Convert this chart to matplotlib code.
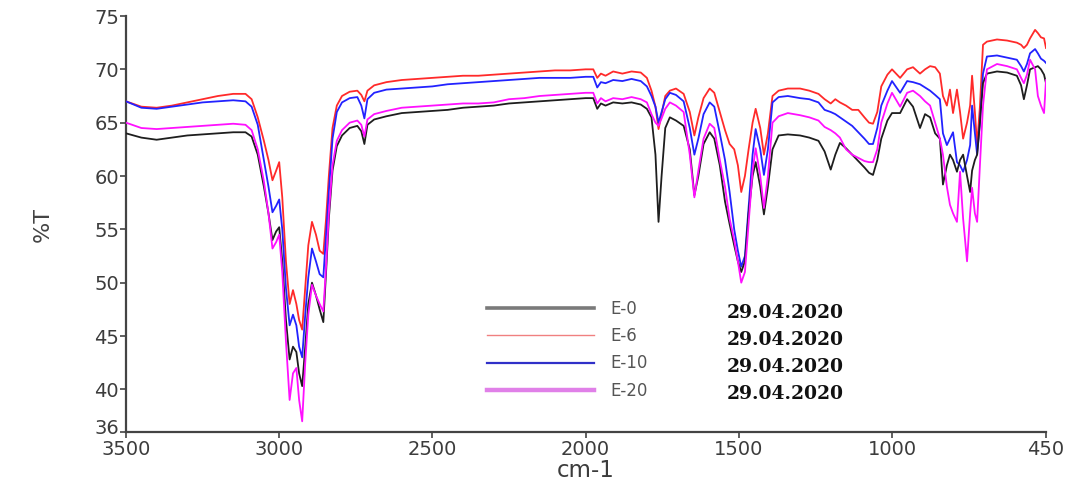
import numpy as np
import matplotlib
matplotlib.use("Agg")
import matplotlib.pyplot as plt
import matplotlib.transforms as mtransforms
from matplotlib.lines import Line2D

# ---------------- data ----------------
wavenumber = [
    3500, 3450, 3400, 3350, 3300, 3250, 3200, 3150, 3110, 3090, 3070, 3050, 3035, 3022,
    3010, 3000, 2990, 2978, 2966, 2955, 2944, 2935, 2925, 2915, 2905, 2893, 2880, 2868,
    2856, 2847, 2838, 2826, 2812, 2795, 2770, 2745, 2732, 2722, 2712, 2690, 2650, 2600,
    2550, 2500, 2450, 2400, 2350, 2300, 2250, 2200, 2150, 2100, 2050, 2000, 1975, 1962,
    1950, 1935, 1910, 1880, 1850, 1820, 1800, 1785, 1772, 1762, 1752, 1740, 1725, 1705,
    1680, 1660, 1645, 1632, 1615, 1595, 1580, 1562, 1545, 1530, 1515, 1503, 1492, 1480,
    1468, 1455, 1445, 1430, 1418, 1405, 1390, 1370, 1340, 1300, 1270, 1240, 1220, 1200,
    1185, 1170, 1150, 1130, 1110, 1090, 1075, 1062, 1048, 1035, 1015, 1000, 971, 946,
    925, 900, 882, 864, 846, 829, 818, 804, 793, 782, 768, 757, 746, 732, 721, 714, 704,
    696, 686, 675, 661, 625, 589, 554, 539, 529, 518, 507, 489, 479, 468, 457, 450]

e6 = [
    67.0, 66.5, 66.4, 66.6, 66.9, 67.2, 67.5, 67.7, 67.7, 67.2, 65.5, 63.3, 61.5, 59.6,
    60.5, 61.3, 58.0, 52.0, 48.0, 49.3, 48.0, 46.5, 45.6, 49.5, 53.5, 55.7, 54.5, 53.0,
    52.7, 56.0, 60.0, 64.5, 66.6, 67.5, 67.9, 68.0, 67.6, 67.0, 68.0, 68.5, 68.8, 69.0,
    69.1, 69.2, 69.3, 69.4, 69.4, 69.5, 69.6, 69.7, 69.8, 69.9, 69.9, 70.0, 70.0, 69.2,
    69.6, 69.4, 69.8, 69.6, 69.8, 69.7, 69.2, 68.0, 66.5, 64.4, 65.8, 67.5, 68.0, 68.2,
    67.7, 66.0, 63.8, 65.5, 67.3, 68.2, 67.8, 66.0, 64.3, 63.0, 62.5, 61.0, 58.5, 60.0,
    62.5, 65.0, 66.3, 64.5, 62.0, 64.0, 67.5, 68.0, 68.2, 68.2, 68.0, 67.7, 67.2, 66.8,
    67.2, 66.9, 66.6, 66.2, 66.2, 65.5, 65.0, 64.9, 66.0, 68.4, 69.5, 70.0, 69.2, 70.0,
    70.2, 69.6, 70.0, 70.3, 70.2, 69.6, 67.5, 66.6, 68.1, 65.9, 68.1, 66.0, 63.5, 65.0,
    66.6, 69.4, 66.0, 62.9, 66.5, 72.3, 72.6, 72.8, 72.7, 72.5, 72.3, 72.0, 72.3, 72.9,
    73.7, 73.4, 73.0, 72.9, 72.0]

e10 = [
    67.0, 66.4, 66.3, 66.5, 66.7, 66.9, 67.0, 67.1, 67.0, 66.5, 64.8, 61.5, 59.0, 56.6,
    57.2, 57.8, 55.0, 49.5, 46.0, 47.0, 46.0, 44.0, 43.0, 47.0, 50.5, 53.2, 52.0, 50.8,
    50.5, 54.5, 58.5, 63.5, 66.0, 66.9, 67.3, 67.4, 66.6, 65.4, 67.2, 67.8, 68.1, 68.2,
    68.3, 68.4, 68.6, 68.7, 68.8, 68.9, 69.0, 69.1, 69.2, 69.2, 69.2, 69.3, 69.3, 68.3,
    68.8, 68.7, 69.0, 68.9, 69.1, 68.9, 68.4, 67.5, 66.5, 65.0, 66.0, 67.2, 67.8, 67.6,
    67.0, 64.5, 62.0, 63.5, 65.8, 66.9, 66.5, 64.0, 61.5, 58.5, 55.0, 53.0, 51.5, 52.5,
    57.0, 62.0, 64.4, 62.5, 60.1, 62.5, 66.9, 67.4, 67.5, 67.3, 67.2, 66.9, 66.2, 66.0,
    65.8, 65.5, 65.1, 64.7, 64.1, 63.5, 63.0, 63.0, 64.5, 66.6, 68.0, 68.9, 67.8, 68.9,
    68.8, 68.6, 68.3, 68.0, 67.6, 67.2, 64.0, 62.9, 63.5, 64.1, 61.3, 61.0, 60.4, 61.5,
    62.9, 66.6, 64.0, 62.0, 65.0, 69.6, 71.2, 71.3, 71.1, 70.9, 70.3, 69.8, 70.5, 71.5,
    71.9, 71.5, 71.0, 70.8, 70.6]

e0 = [
    64.0, 63.6, 63.4, 63.6, 63.8, 63.9, 64.0, 64.1, 64.1, 63.7, 62.0, 59.0, 56.5, 54.0,
    54.8, 55.2, 52.0, 46.5, 42.8, 44.0, 43.5, 41.5, 40.3, 44.0, 48.0, 50.0, 48.8, 47.5,
    46.3, 51.0, 56.0, 60.5, 62.8, 63.8, 64.5, 64.7, 64.2, 63.0, 64.8, 65.3, 65.6, 65.9,
    66.0, 66.1, 66.2, 66.4, 66.5, 66.6, 66.8, 66.9, 67.0, 67.1, 67.2, 67.3, 67.3, 66.3,
    66.8, 66.6, 66.9, 66.8, 66.9, 66.7, 66.3, 65.5, 62.0, 55.7, 60.0, 64.5, 65.5, 65.2,
    64.7, 62.5, 58.2, 60.0, 63.0, 64.1, 63.5, 61.0, 57.6, 55.5, 53.5, 52.0, 51.0, 52.0,
    56.5, 60.0, 61.3, 59.0, 56.4, 59.0, 62.5, 63.8, 63.9, 63.8, 63.6, 63.3, 62.3, 60.6,
    62.0, 63.1, 62.6, 62.0, 61.4, 60.8, 60.3, 60.1, 61.5, 63.5, 65.2, 65.9, 65.9, 67.2,
    66.5, 64.5, 65.8, 65.5, 64.0, 63.5, 59.2, 61.0, 62.0, 61.5, 60.4, 61.5, 62.0, 60.0,
    58.5, 60.5, 61.5, 62.0, 65.0, 68.7, 69.6, 69.8, 69.7, 69.4, 68.5, 67.2, 68.5, 70.0,
    70.2, 70.3, 70.0, 69.5, 68.7]

e20 = [
    65.0, 64.5, 64.4, 64.5, 64.6, 64.7, 64.8, 64.9, 64.8, 64.3, 62.5, 59.5, 56.5, 53.2,
    53.8, 54.5, 51.0, 44.5, 39.0, 41.5, 42.0, 39.0, 37.0, 42.5, 47.0, 49.8, 48.8, 48.0,
    47.3, 51.5, 56.5, 61.0, 63.3, 64.3, 65.0, 65.2, 64.8, 63.7, 65.3, 65.8, 66.1, 66.4,
    66.5, 66.6, 66.7, 66.8, 66.8, 66.9, 67.2, 67.3, 67.5, 67.6, 67.7, 67.8, 67.8, 66.8,
    67.3, 67.0, 67.3, 67.2, 67.4, 67.2, 66.9, 65.8, 65.0, 64.7, 65.4, 66.3, 66.9, 66.6,
    66.0, 62.0, 58.0, 60.5, 63.5, 64.9, 64.5, 61.5, 59.0, 56.0, 54.0, 52.0, 50.0, 51.0,
    55.5, 60.5, 62.6, 60.0, 57.0, 60.0, 65.0, 65.6, 65.9, 65.7, 65.5, 65.2, 64.6, 64.3,
    64.0, 63.6, 62.5, 62.0, 61.7, 61.4, 61.3, 61.3, 62.5, 65.0, 66.8, 67.8, 66.5, 67.8,
    68.0, 67.5, 67.0, 66.6, 65.0, 63.5, 62.0, 59.0, 57.3, 56.5, 55.7, 60.4, 56.0, 52.0,
    56.5, 58.9, 56.5, 55.7, 61.0, 66.6, 70.0, 70.5, 70.3, 70.0, 69.2, 68.7, 69.5, 70.9,
    70.0, 67.5, 66.6, 65.9, 69.0]

series_labels = ["E-0", "E-6", "E-10", "E-20"]
dates = ["29.04.2020", "29.04.2020", "29.04.2020", "29.04.2020"]
x_ticks = [3500, 3000, 2500, 2000, 1500, 1000, 450]
y_ticks = [36, 40, 45, 50, 55, 60, 65, 70, 75]

# ---------------- scale: compressed below 1000 cm-1 (as on the spectrometer plot) ----------------
_xp = np.array([0.0, 450.0, 1000.0, 3500.0, 6000.0])
_fp = np.array([-0.28 * 450, 0.0, 154.0, 920.0, 920.0 + 0.3064 * 2500])

def fwd(v):
    return np.interp(v, _xp, _fp)

def inv(v):
    return np.interp(v, _fp, _xp)

# ---------------- figure ----------------
fig = plt.figure(figsize=(10.82, 4.82), dpi=100)
ax = fig.add_axes([126 / 1082, 1 - 432 / 482, 920 / 1082, 416 / 482])
ax.set_xscale("function", functions=(fwd, inv))

colors = {"E-0": "#1e1e1e", "E-6": "#ff2a2a", "E-10": "#2222ff", "E-20": "#ff10ff"}
data = {"E-0": e0, "E-6": e6, "E-10": e10, "E-20": e20}
for lab in ["E-6", "E-10", "E-0", "E-20"]:
    ax.plot(wavenumber, data[lab], color=colors[lab], lw=1.3, zorder=3)

ax.set_xlim(3500, 450)
ax.set_ylim(36, 75)
ax.set_xticks(x_ticks)
ax.set_xticklabels([str(t) for t in x_ticks])
ax.set_yticks(y_ticks)
ax.set_yticklabels([str(t) for t in y_ticks])

for s in ["top", "right"]:
    ax.spines[s].set_visible(False)
for s in ["left", "bottom"]:
    ax.spines[s].set_color("#444444")
    ax.spines[s].set_linewidth(1.6)

ax.tick_params(axis="both", direction="out", length=4, width=1.2, color="#444444",
               labelsize=14, labelcolor="#3c3c3c")
ax.tick_params(axis="x", pad=2)
ax.tick_params(axis="y", pad=1)
for lbl in ax.get_xticklabels() + ax.get_yticklabels():
    lbl.set_fontfamily("DejaVu Sans")

# lift the lowest y label a little so it does not sit on the "3500" label
low_lbl = ax.get_yticklabels()[0]
low_lbl.set_transform(low_lbl.get_transform() +
                      mtransforms.ScaledTranslation(0, 4 / 72, fig.dpi_scale_trans))

ax.set_xlabel("cm-1", fontsize=16.5, color="#3c3c3c", family="DejaVu Sans", labelpad=0)
ax.set_ylabel("%T", fontsize=16, color="#444444", family="DejaVu Sans", labelpad=30)

# legend
handles = [
    Line2D([], [], color="#7a7a7a", lw=2.6),
    Line2D([], [], color="#f08080", lw=1.0),
    Line2D([], [], color="#3030c8", lw=1.6),
    Line2D([], [], color="#e080e8", lw=3.2),
]
leg = ax.legend(handles, series_labels, loc="upper left",
                bbox_to_anchor=((487 - 126) / 920, (432 - 300) / 416),
                frameon=False, fontsize=12, handlelength=6.4, handletextpad=1.0,
                labelspacing=0.55, borderpad=0, borderaxespad=0)
for t in leg.get_texts():
    t.set_color("#555555")
    t.set_fontfamily("DejaVu Sans")

row_y = [313, 340, 367, 394]
for d, yy in zip(dates, row_y):
    ax.text((727 - 126) / 920, (432 - yy) / 416, d, transform=ax.transAxes,
            fontsize=13.5, fontweight="bold", family="DejaVu Serif",
            color="#111111", va="center", ha="left")

fig.savefig("out.png", dpi=100)
